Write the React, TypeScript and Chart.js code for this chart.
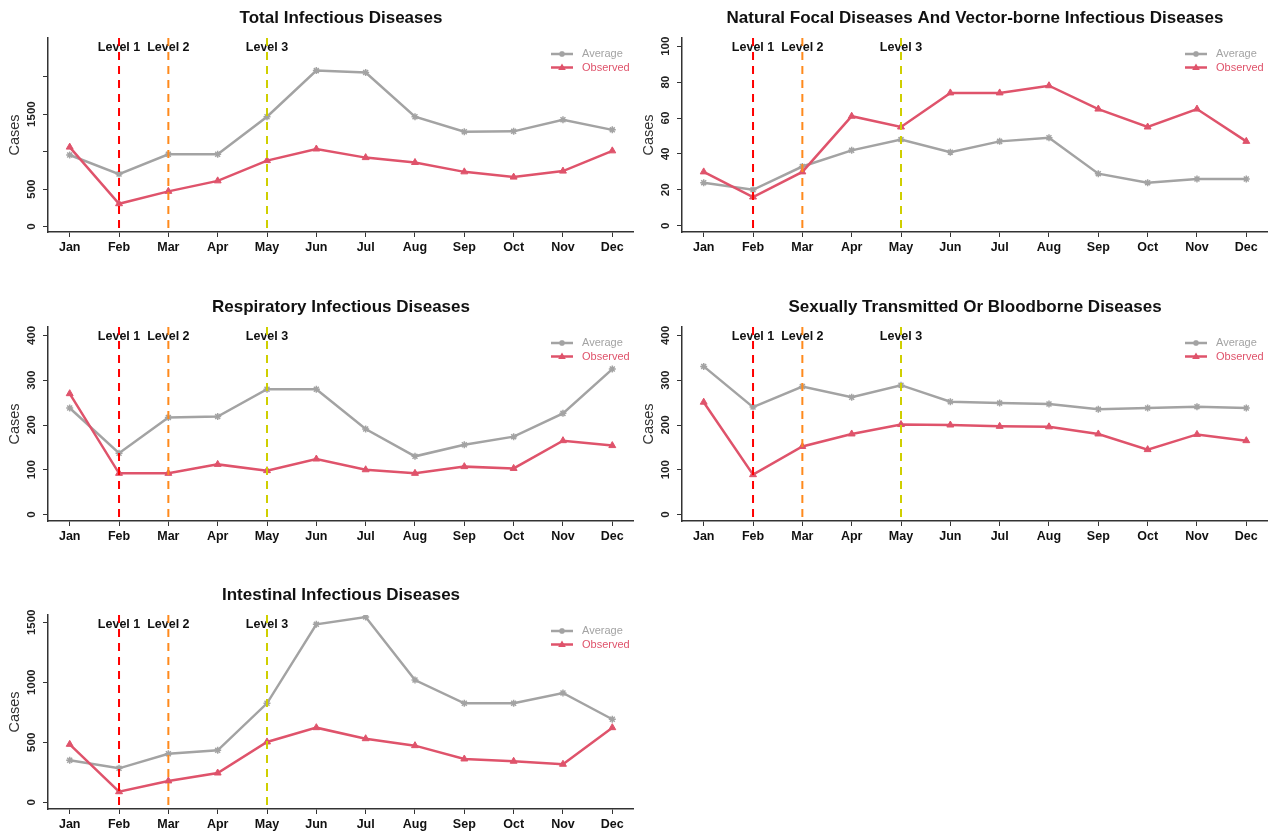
import React, { useEffect, useRef } from 'react';
import { Chart, registerables } from 'chart.js';

Chart.register(...registerables);

const FONT = "'Liberation Sans', Arial, sans-serif";

const MONTHS = ['Jan', 'Feb', 'Mar', 'Apr', 'May', 'Jun', 'Jul', 'Aug', 'Sep', 'Oct', 'Nov', 'Dec'];
const SERIES_NAMES = ['Average', 'Observed'];
const LEVEL_MONTHS = ['Feb', 'Mar', 'May'];
const LEVEL_LABELS = ['Level 1', 'Level 2', 'Level 3'];
const LEVEL_COLORS = ['#FF0000', '#FF8A1C', '#CFCF00'];
const AVG_COLOR = '#A3A3A3';
const OBS_COLOR = '#DF536B';

const TOTAL_AVG = [955, 700, 965, 965, 1465, 2080, 2055, 1465, 1265, 1270, 1425, 1290];
const TOTAL_OBS = [1060, 305, 470, 610, 880, 1035, 920, 855, 730, 660, 740, 1010];
const TOTAL_Y_TICKS = [0, 500, 1000, 1500, 2000];
const TOTAL_Y_LABELS = ['0', '500', '', '1500', ''];

const NATURAL_AVG = [24, 20, 33, 42, 48, 41, 47, 49, 29, 24, 26, 26];
const NATURAL_OBS = [30, 16, 30, 61, 55, 74, 74, 78, 65, 55, 65, 47];
const NATURAL_Y_TICKS = [0, 20, 40, 60, 80, 100];
const NATURAL_Y_LABELS = ['0', '20', '40', '60', '80', '100'];

const RESP_AVG = [238, 137, 217, 219, 280, 280, 191, 130, 156, 174, 226, 325];
const RESP_OBS = [270, 92, 92, 112, 98, 124, 100, 92, 107, 103, 165, 154];
const RESP_Y_TICKS = [0, 100, 200, 300, 400];
const RESP_Y_LABELS = ['0', '100', '200', '300', '400'];

const SEX_AVG = [331, 240, 286, 262, 289, 252, 249, 247, 235, 238, 241, 238];
const SEX_OBS = [251, 89, 152, 180, 201, 200, 197, 196, 180, 145, 179, 165];
const SEX_Y_TICKS = [0, 100, 200, 300, 400];
const SEX_Y_LABELS = ['0', '100', '200', '300', '400'];

const INT_AVG = [350, 283, 405, 433, 825, 1483, 1544, 1019, 825, 825, 911, 692];
const INT_OBS = [483, 88, 178, 244, 503, 622, 530, 472, 361, 342, 317, 622];
const INT_Y_TICKS = [0, 500, 1000, 1500];
const INT_Y_LABELS = ['0', '500', '1000', '1500'];

type Panel = {
  title: string;
  avg: number[];
  obs: number[];
  yTicks: number[];
  yLabels: string[];
  yMin: number;
  yMax: number;
  col: number;
  row: number;
};

const PANELS: Panel[] = [
  { title: 'Total Infectious Diseases', avg: TOTAL_AVG, obs: TOTAL_OBS, yTicks: TOTAL_Y_TICKS, yLabels: TOTAL_Y_LABELS, yMin: -72, yMax: 2515, col: 0, row: 0 },
  { title: 'Natural Focal Diseases And Vector-borne Infectious Diseases', avg: NATURAL_AVG, obs: NATURAL_OBS, yTicks: NATURAL_Y_TICKS, yLabels: NATURAL_Y_LABELS, yMin: -3.5, yMax: 104.6, col: 1, row: 0 },
  { title: 'Respiratory Infectious Diseases', avg: RESP_AVG, obs: RESP_OBS, yTicks: RESP_Y_TICKS, yLabels: RESP_Y_LABELS, yMin: -14.5, yMax: 419, col: 0, row: 1 },
  { title: 'Sexually Transmitted Or Bloodborne Diseases', avg: SEX_AVG, obs: SEX_OBS, yTicks: SEX_Y_TICKS, yLabels: SEX_Y_LABELS, yMin: -14.5, yMax: 419, col: 1, row: 1 },
  { title: 'Intestinal Infectious Diseases', avg: INT_AVG, obs: INT_OBS, yTicks: INT_Y_TICKS, yLabels: INT_Y_LABELS, yMin: -56, yMax: 1561, col: 0, row: 2 },
];

const CANVAS_W = 634;
const CANVAS_H = 255;
const ROW_TOPS = [0, 288.5, 577];

function drawMarker(ctx: CanvasRenderingContext2D, style: string, x: number, y: number, r: number, color: string) {
  ctx.save();
  ctx.strokeStyle = color;
  ctx.fillStyle = color;
  ctx.lineWidth = 1.5;
  if (style === 'star') {
    ctx.beginPath();
    ctx.moveTo(x - r, y); ctx.lineTo(x + r, y);
    ctx.moveTo(x, y - r); ctx.lineTo(x, y + r);
    const d = r * 0.7071;
    ctx.moveTo(x - d, y - d); ctx.lineTo(x + d, y + d);
    ctx.moveTo(x - d, y + d); ctx.lineTo(x + d, y - d);
    ctx.stroke();
  } else {
    ctx.beginPath();
    ctx.moveTo(x, y - r);
    ctx.lineTo(x + r * 0.95, y + r * 0.6);
    ctx.lineTo(x - r * 0.95, y + r * 0.6);
    ctx.closePath();
    ctx.fill();
  }
  ctx.restore();
}

function makeDecor(panel: Panel) {
  return {
    id: 'decor',
    afterDatasetsDraw(chart: any) {
      const { ctx, chartArea, scales } = chart;
      const xs = scales.x;
      ctx.save();
      ctx.font = `bold 12.5px ${FONT}`;
      ctx.fillStyle = '#111';
      ctx.textAlign = 'center';
      ctx.textBaseline = 'middle';
      LEVEL_MONTHS.forEach((m, i) => {
        const px = xs.getPixelForValue(MONTHS.indexOf(m));
        ctx.fillText(LEVEL_LABELS[i], px, chartArea.top + 9.5);
      });
      ctx.lineWidth = 2;
      ctx.setLineDash([8, 6]);
      LEVEL_MONTHS.forEach((m, i) => {
        const px = xs.getPixelForValue(MONTHS.indexOf(m));
        ctx.strokeStyle = LEVEL_COLORS[i];
        ctx.beginPath();
        ctx.moveTo(px, chartArea.top);
        ctx.lineTo(px, chartArea.bottom);
        ctx.stroke();
      });
      ctx.restore();
    },
    afterDraw(chart: any) {
      const { ctx, chartArea, scales } = chart;
      const ys = scales.y;
      ctx.save();
      // title
      ctx.font = `bold 17px ${FONT}`;
      ctx.fillStyle = '#111';
      ctx.textAlign = 'center';
      ctx.textBaseline = 'middle';
      ctx.fillText(panel.title, (chartArea.left + chartArea.right) / 2, 18.5);
      // y tick labels (rotated, R style)
      ctx.font = `bold 11.5px ${FONT}`;
      ctx.fillStyle = '#222';
      panel.yTicks.forEach((v, i) => {
        const lab = panel.yLabels[i];
        if (!lab) return;
        ctx.save();
        ctx.translate(chartArea.left - 16.5, ys.getPixelForValue(v));
        ctx.rotate(-Math.PI / 2);
        ctx.fillText(lab, 0, 0);
        ctx.restore();
      });
      // y axis title
      ctx.save();
      ctx.font = `14.5px ${FONT}`;
      ctx.fillStyle = '#333';
      ctx.translate(chartArea.left - 33, (chartArea.top + chartArea.bottom) / 2);
      ctx.rotate(-Math.PI / 2);
      ctx.fillText('Cases', 0, 0);
      ctx.restore();
      // legend
      const lx0 = chartArea.left + 503;
      const lx1 = lx0 + 22;
      const styles = ['star', 'triangle'];
      const colors = [AVG_COLOR, OBS_COLOR];
      SERIES_NAMES.forEach((name, i) => {
        const ly = chartArea.top + 16 + i * 13.5;
        ctx.strokeStyle = colors[i];
        ctx.lineWidth = 2.5;
        ctx.beginPath();
        ctx.moveTo(lx0, ly);
        ctx.lineTo(lx1, ly);
        ctx.stroke();
        drawMarker(ctx, styles[i], (lx0 + lx1) / 2, ly, i === 0 ? 3 : 4, colors[i]);
        ctx.font = `11px ${FONT}`;
        ctx.fillStyle = colors[i];
        ctx.textAlign = 'left';
        ctx.fillText(name, lx1 + 9, ly);
      });
      ctx.restore();
    },
  };
}

function PanelChart({ panel }: { panel: Panel }) {
  const ref = useRef<HTMLCanvasElement | null>(null);
  useEffect(() => {
    if (!ref.current) return;
    const axisColor = '#333';
    const chart = new Chart(ref.current, {
      type: 'line',
      data: {
        datasets: [
          {
            label: SERIES_NAMES[0],
            data: panel.avg.map((v, i) => ({ x: i, y: v })),
            borderColor: AVG_COLOR,
            backgroundColor: AVG_COLOR,
            borderWidth: 2.5,
            pointStyle: 'star',
            pointRadius: 3.5,
            pointBorderWidth: 1.5,
            pointBorderColor: AVG_COLOR,
            tension: 0,
            order: 2,
          },
          {
            label: SERIES_NAMES[1],
            data: panel.obs.map((v, i) => ({ x: i, y: v })),
            borderColor: OBS_COLOR,
            backgroundColor: OBS_COLOR,
            borderWidth: 2.5,
            pointStyle: 'triangle',
            pointRadius: 4,
            pointBorderWidth: 1,
            pointBackgroundColor: OBS_COLOR,
            pointBorderColor: OBS_COLOR,
            tension: 0,
            order: 1,
          },
        ],
      },
      options: {
        animation: false,
        responsive: false,
        layout: { autoPadding: false, padding: { top: 38, left: 0, right: 0, bottom: 0 } },
        plugins: { legend: { display: false }, title: { display: false }, tooltip: { enabled: false } },
        scales: {
          x: {
            type: 'linear',
            min: -0.44,
            max: 11.44,
            afterBuildTicks: (s: any) => { s.ticks = MONTHS.map((_, i) => ({ value: i })); },
            afterFit: (s: any) => {
              s.height = CANVAS_H - 232;
              s.paddingLeft = 0;
              s.paddingRight = 0;
            },
            ticks: {
              autoSkip: false,
              maxRotation: 0,
              minRotation: 0,
              padding: 3,
              color: '#111',
              font: { family: FONT, size: 12.5, weight: 'bold' },
              callback: (v: any) => MONTHS[Number(v)] ?? '',
            },
            grid: { drawOnChartArea: false, drawTicks: true, tickLength: 5, color: axisColor, lineWidth: 1 },
            border: { display: true, color: axisColor, width: 1.5 },
          },
          y: {
            type: 'linear',
            min: panel.yMin,
            max: panel.yMax,
            afterBuildTicks: (s: any) => { s.ticks = panel.yTicks.map((v) => ({ value: v })); },
            afterFit: (s: any) => {
              s.width = 48;
              s.paddingTop = 0;
              s.paddingBottom = 0;
            },
            ticks: { display: false },
            grid: { drawOnChartArea: false, drawTicks: true, tickLength: 5, color: axisColor, lineWidth: 1 },
            border: { display: true, color: axisColor, width: 1.5 },
          },
        },
      } as any,
      plugins: [makeDecor(panel)],
    });
    return () => chart.destroy();
  }, [panel]);
  return (
    <canvas
      ref={ref}
      width={CANVAS_W}
      height={CANVAS_H}
      style={{ position: 'absolute', left: panel.col * CANVAS_W, top: ROW_TOPS[panel.row], width: CANVAS_W, height: CANVAS_H, display: 'block' }}
    />
  );
}

export default function App() {
  return (
    <div style={{ position: 'absolute', left: 0, top: 0, width: 1268, height: 832, overflow: 'hidden', background: '#fff' }}>
      {PANELS.map((p) => (
        <PanelChart key={p.title} panel={p} />
      ))}
    </div>
  );
}
